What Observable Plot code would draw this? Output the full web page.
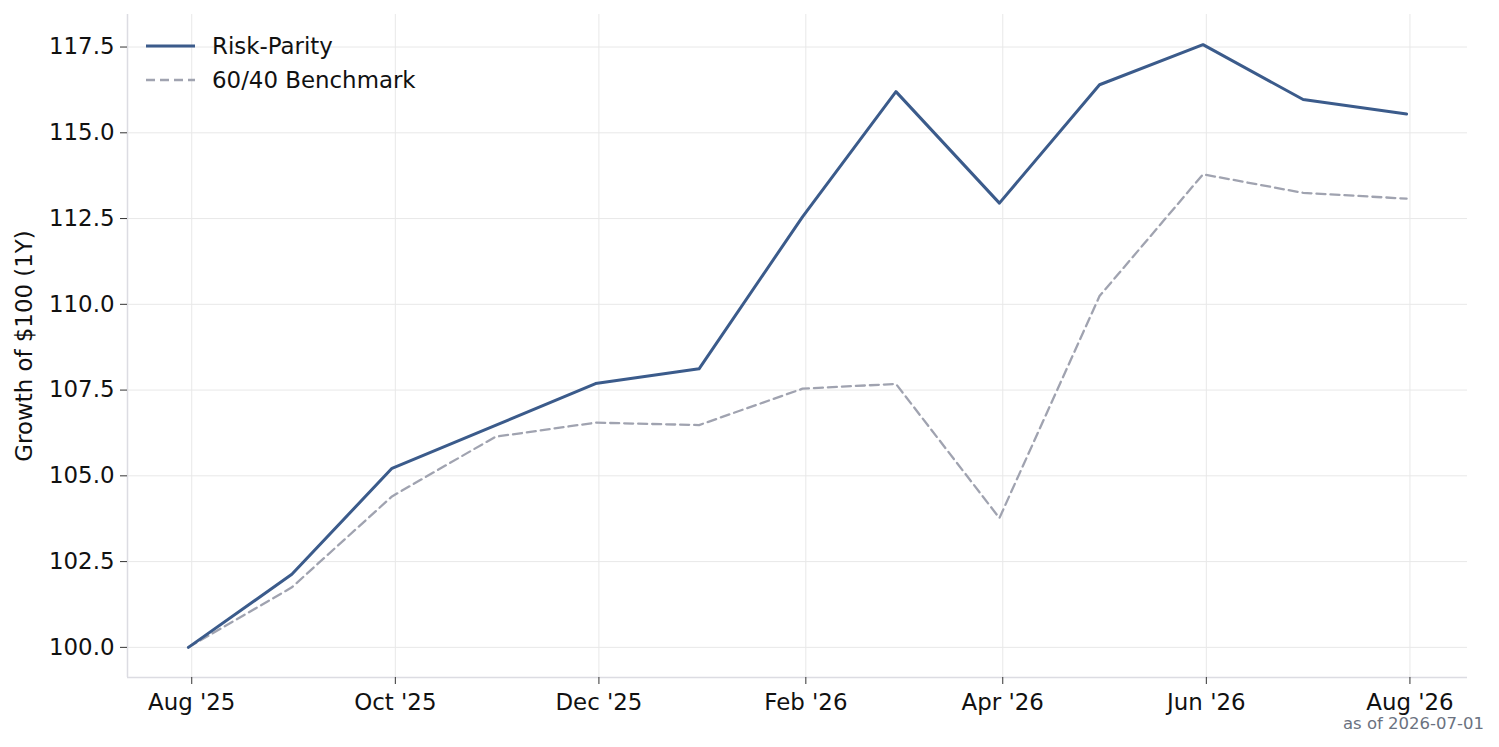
<!DOCTYPE html>
<html>
<head>
<meta charset="utf-8">
<script src="https://cdn.jsdelivr.net/npm/d3@7"></script>
<script src="https://cdn.jsdelivr.net/npm/@observablehq/plot@0.6"></script>
<style>
  html, body { margin: 0; padding: 0; background: #fff; }
  #wrap { position: relative; width: 1499px; height: 747px; font-family: "DejaVu Sans", sans-serif; }
  #legend { position: absolute; left: 146px; top: 29px; font-size: 22.9px; color: #111; line-height: 34px; }
  #legend .row { display: flex; align-items: center; height: 34px; }
  #legend svg { margin-right: 17px; }
  #caption { position: absolute; right: 15px; top: 714px; font-size: 16.5px; color: #6b7280; }
</style>
</head>
<body>
<div id="wrap">
  <div id="chart"></div>
  <div id="legend"></div>
  <div id="caption">as of 2026-07-01</div>
</div>
<script>
const dates = ["2025-07-31","2025-08-31","2025-09-30","2025-10-31","2025-11-30","2025-12-31","2026-01-31","2026-02-28","2026-03-31","2026-04-30","2026-05-31","2026-06-30","2026-07-31"];
const riskParity = [100, 102.13, 105.22, 106.47, 107.69, 108.12, 112.55, 116.20, 112.95, 116.40, 117.57, 115.97, 115.55];
const benchmark = [100, 101.75, 104.40, 106.14, 106.55, 106.48, 107.54, 107.68, 103.77, 110.24, 113.79, 113.25, 113.08];
const seriesNames = ["Risk-Parity", "60/40 Benchmark"];
const xTicks = ["2025-08-01","2025-10-01","2025-12-01","2026-02-01","2026-04-01","2026-06-01","2026-08-01"];
const yTicks = [100, 102.5, 105, 107.5, 110, 112.5, 115, 117.5];
const yLabel = "Growth of $100 (1Y)";

const colors = {"Risk-Parity": "#3b5b8b", "60/40 Benchmark": "#a0a3b0"};
const monthNames = ["Jan","Feb","Mar","Apr","May","Jun","Jul","Aug","Sep","Oct","Nov","Dec"];

const rows = [];
dates.forEach((d, i) => {
  rows.push({date: new Date(d + "T00:00:00Z"), value: riskParity[i], series: seriesNames[0]});
  rows.push({date: new Date(d + "T00:00:00Z"), value: benchmark[i], series: seriesNames[1]});
});
const rp = rows.filter(r => r.series === seriesNames[0]);
const bm = rows.filter(r => r.series === seriesNames[1]);

const t0 = new Date(dates[0] + "T00:00:00Z");
const t1 = new Date(dates[dates.length - 1] + "T00:00:00Z");
const span = t1 - t0;
const xDomain = [new Date(+t0 - span * 0.05), new Date(+t1 + span * 0.05)];
const allVals = riskParity.concat(benchmark);
const yMin = d3.min(allVals), yMax = d3.max(allVals);
const yPad = (yMax - yMin) * 0.05;
const yDomain = [yMin - yPad, yMax + yPad];
const xTickDates = xTicks.map(d => new Date(d + "T00:00:00Z"));

const chart = Plot.plot({
  width: 1499,
  height: 747,
  marginLeft: 127,
  marginRight: 32,
  marginTop: 14,
  marginBottom: 70,
  style: {fontFamily: "DejaVu Sans, sans-serif", fontSize: "22.9px", color: "#111", background: "#fff", overflow: "visible"},
  x: {type: "utc", domain: xDomain},
  y: {domain: yDomain},
  marks: [
    Plot.gridX(xTickDates, {stroke: "#e8e8e8", strokeOpacity: 1, strokeWidth: 1}),
    Plot.gridY(yTicks, {stroke: "#e8e8e8", strokeOpacity: 1, strokeWidth: 1}),
    Plot.ruleX([xDomain[0]], {stroke: "#dcdce2", strokeWidth: 1.5}),
    Plot.ruleY([yDomain[0]], {stroke: "#dcdce2", strokeWidth: 1.5}),
    Plot.axisX(xTickDates, {
      tickSize: 7, tickPadding: 9, stroke: "#333", fontSize: 22.9, fill: "#111",
      tickFormat: d => `${monthNames[d.getUTCMonth()]} '${String(d.getUTCFullYear()).slice(2)}`,
      label: null
    }),
    Plot.axisY(yTicks, {
      tickSize: 7, tickPadding: 6, stroke: "#333", fontSize: 22.9, fill: "#111",
      tickFormat: d => d.toFixed(1), label: null
    }),
    Plot.text([yLabel], {frameAnchor: "left", text: d => d, rotate: -90, dx: -103, fontSize: 22.9, fill: "#111", textAnchor: "middle", lineAnchor: "middle"}),
    Plot.line(bm, {x: "date", y: "value", stroke: colors[seriesNames[1]], strokeWidth: 2.3, strokeDasharray: "9,5"}),
    Plot.line(rp, {x: "date", y: "value", stroke: colors[seriesNames[0]], strokeWidth: 3})
  ]
});
document.getElementById("chart").appendChild(chart);

const legend = document.getElementById("legend");
seriesNames.forEach((name, i) => {
  const row = document.createElement("div");
  row.className = "row";
  const dash = i === 1 ? 'stroke-dasharray="9,5"' : "";
  const sw = i === 1 ? 2.3 : 3;
  row.innerHTML = `<svg width="49" height="10"><line x1="0" x2="49" y1="5" y2="5" stroke="${colors[name]}" stroke-width="${sw}" ${dash}/></svg><span>${name}</span>`;
  legend.appendChild(row);
});
</script>
</body>
</html>
